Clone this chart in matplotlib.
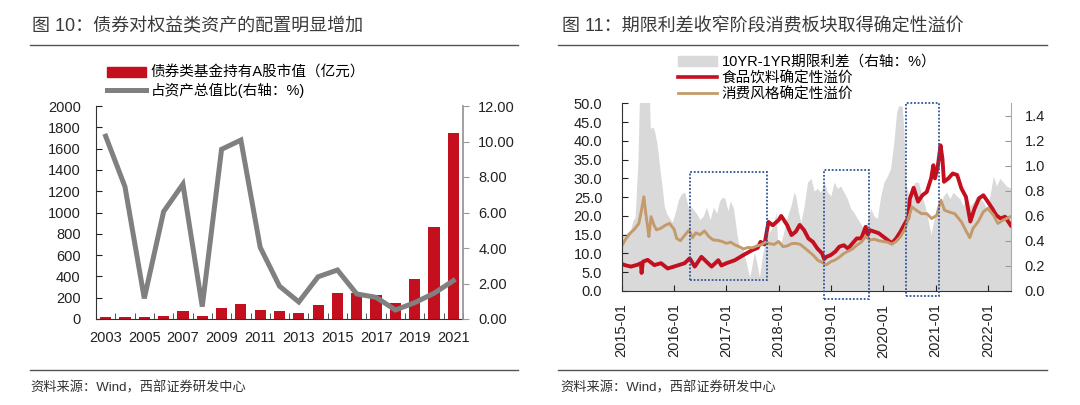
import numpy as np
import pandas as pd
import matplotlib
matplotlib.use('Agg')
import matplotlib.pyplot as plt
from matplotlib.patches import Rectangle, Patch
from matplotlib.lines import Line2D

plt.rcParams['font.family'] = ['Liberation Sans', 'Noto Sans CJK SC']
plt.rcParams['axes.unicode_minus'] = False

# ---- left panel data ----
years = list(range(2003, 2022))
bond_fund_equity = [22, 22, 22, 30, 72, 30, 106, 143, 85, 78,
                    53, 128, 241, 247, 222, 147, 372, 861, 1749]
equity_share = [10.3, 7.45, 1.16, 6.05, 7.6, 0.7, 9.56, 10.08, 4.04, 1.85,
                0.96, 2.38, 2.76, 1.41, 1.22, 0.51, 0.92, 1.45, 2.16]

# ---- right panel data ----
spread_dates = [
    '2015-01-01', '2015-02-01', '2015-03-01', '2015-03-20', '2015-04-05', '2015-04-25',
    '2015-05-06', '2015-06-15', '2015-07-12', '2015-07-20', '2015-08-08', '2015-08-20',
    '2015-09-01', '2015-09-13', '2015-09-25', '2015-10-10', '2015-10-25', '2015-11-10',
    '2015-12-03', '2015-12-20',
    '2016-01-08', '2016-02-01', '2016-02-25', '2016-03-16', '2016-04-10', '2016-05-03',
    '2016-06-06', '2016-07-01', '2016-07-24', '2016-08-16', '2016-09-09', '2016-10-03',
    '2016-10-25', '2016-11-15', '2016-12-05', '2016-12-22',
    '2017-01-12', '2017-01-28', '2017-02-20', '2017-03-13', '2017-04-03', '2017-04-25',
    '2017-05-18', '2017-06-12', '2017-06-25', '2017-07-15', '2017-08-01', '2017-08-20',
    '2017-09-10', '2017-10-06', '2017-10-28', '2017-11-21', '2017-12-15', '2017-12-25',
    '2018-01-18', '2018-02-12', '2018-03-04', '2018-03-28', '2018-04-19', '2018-05-01',
    '2018-05-19', '2018-06-06', '2018-06-28', '2018-07-22', '2018-08-15', '2018-09-06',
    '2018-09-29', '2018-10-22', '2018-11-15', '2018-12-08',
    '2019-01-01', '2019-01-24', '2019-02-16', '2019-03-10', '2019-04-02', '2019-04-25',
    '2019-05-19', '2019-06-10', '2019-07-04', '2019-07-27', '2019-08-19', '2019-09-12',
    '2019-10-06', '2019-10-29', '2019-11-21', '2019-12-15',
    '2020-01-07', '2020-01-31', '2020-02-22', '2020-03-16', '2020-04-04', '2020-04-19',
    '2020-05-13', '2020-05-25', '2020-06-06', '2020-06-28', '2020-07-19', '2020-08-10',
    '2020-09-04', '2020-09-27', '2020-10-20', '2020-11-13', '2020-12-01', '2020-12-17',
    '2021-01-10', '2021-02-02', '2021-02-25', '2021-03-19', '2021-04-12', '2021-05-04',
    '2021-05-28', '2021-06-19', '2021-07-13', '2021-08-06', '2021-08-29', '2021-09-22',
    '2021-10-15', '2021-11-07', '2021-12-01', '2021-12-24',
    '2022-01-16', '2022-02-09', '2022-03-03', '2022-03-26', '2022-04-18', '2022-05-11',
    '2022-06-10']
spread_values = [
    0.45, 0.46, 0.48, 0.56, 0.59, 1.05,
    1.60, 1.70, 1.60, 1.30, 1.31, 1.27,
    1.20, 1.10, 0.97, 0.84, 0.68, 0.62,
    0.58, 0.55,
    0.62, 0.73, 0.78, 0.79, 0.67, 0.67,
    0.62, 0.57, 0.60, 0.67, 0.57, 0.67,
    0.62, 0.72, 0.75, 0.74,
    0.64, 0.72, 0.66, 0.48, 0.33, 0.34,
    0.24, 0.11, 0.18, 0.31, 0.23, 0.11,
    0.28, 0.44, 0.47, 0.51, 0.63, 0.39,
    0.39, 0.50, 0.60, 0.68, 0.79, 0.76,
    0.63, 0.55, 0.68, 0.87, 0.90, 0.80,
    0.82, 0.79, 0.87, 0.79,
    0.76, 0.87, 0.82, 0.84, 0.79, 0.74,
    0.66, 0.63, 0.58, 0.54, 0.50, 0.55,
    0.66, 0.60, 0.58, 0.76,
    0.87, 0.92, 0.98, 1.19, 1.43, 1.48,
    1.48, 1.29, 0.87, 0.76, 0.82, 0.87,
    0.87, 0.76, 0.68, 0.55, 0.45, 0.55,
    0.68, 0.66, 0.76, 0.79, 0.74, 0.79,
    0.76, 0.74, 0.68, 0.76, 0.68, 0.71,
    0.76, 0.74, 0.71, 0.66,
    0.76, 0.92, 0.84, 0.90, 0.87, 0.84,
    0.82]

food_dates = [
    '2015-01-01', '2015-02-01', '2015-03-07', '2015-04-22', '2015-05-15', '2015-05-20',
    '2015-05-29', '2015-07-01', '2015-08-17', '2015-10-03', '2015-11-18',
    '2016-01-01', '2016-03-15', '2016-04-20', '2016-05-25', '2016-07-11', '2016-08-15',
    '2016-09-20', '2016-11-06', '2016-11-27',
    '2017-01-01', '2017-03-01', '2017-05-01', '2017-07-01', '2017-08-08', '2017-08-28',
    '2017-09-24', '2017-10-06', '2017-10-22', '2017-11-21',
    '2018-01-01', '2018-01-19', '2018-03-01', '2018-04-01', '2018-05-01', '2018-05-28',
    '2018-06-28', '2018-07-28', '2018-08-28', '2018-09-29', '2018-11-01', '2018-11-15',
    '2018-12-01',
    '2019-01-01', '2019-02-01', '2019-03-01', '2019-04-01', '2019-05-01', '2019-06-01',
    '2019-07-01', '2019-08-01', '2019-09-01', '2019-09-15', '2019-10-01', '2019-11-01',
    '2019-12-01',
    '2020-01-01', '2020-02-01', '2020-03-01', '2020-04-01', '2020-05-01', '2020-06-01',
    '2020-06-25', '2020-07-05', '2020-08-01', '2020-09-01', '2020-10-01', '2020-11-01',
    '2020-12-01', '2020-12-17', '2020-12-28',
    '2021-01-16', '2021-02-05', '2021-02-18', '2021-03-01', '2021-04-01', '2021-05-01',
    '2021-06-01', '2021-07-01', '2021-08-01', '2021-09-01', '2021-10-01', '2021-11-01',
    '2021-12-01',
    '2022-01-01', '2022-02-01', '2022-03-01', '2022-04-01', '2022-05-01', '2022-06-10']
food_premium = [
    7.2, 6.8, 6.5, 7.0, 7.4, 4.8,
    7.8, 8.3, 6.9, 7.4, 6.0,
    6.5, 7.4, 8.7, 6.5, 9.1, 7.8,
    6.5, 8.2, 6.8,
    7.4, 8.2, 9.6, 10.9, 11.5, 13.1,
    12.4, 14.9, 18.4, 17.5,
    18.9, 20.0, 17.6, 14.9, 15.8, 17.6,
    16.2, 14.0, 13.1, 11.3, 10.0, 8.5,
    9.1,
    9.6, 10.5, 11.8, 12.2, 11.3, 12.7,
    14.0, 14.0, 17.1, 14.9, 16.2, 15.8,
    15.4,
    14.5, 13.6, 12.7, 14.0, 15.8, 18.0,
    19.5, 24.5, 27.5, 23.8, 25.5, 26.4,
    30.0, 33.5, 30.0,
    33.0, 38.8, 35.3, 29.1, 30.0, 31.3,
    30.9, 27.3, 25.1, 18.5, 22.0, 24.7,
    25.5,
    23.8, 22.0, 20.2, 19.3, 19.8, 17.5]

consumer_dates = [
    '2015-01-01', '2015-02-01', '2015-03-01', '2015-04-01', '2015-05-01', '2015-05-15',
    '2015-06-05', '2015-06-15', '2015-07-01', '2015-07-10', '2015-07-25', '2015-08-15',
    '2015-09-01', '2015-10-01', '2015-11-01', '2015-12-01',
    '2016-01-01', '2016-01-20', '2016-02-15', '2016-03-15', '2016-04-15', '2016-05-10',
    '2016-06-01', '2016-07-01', '2016-08-01', '2016-09-01', '2016-10-01', '2016-11-01',
    '2016-12-01',
    '2017-01-01', '2017-02-01', '2017-03-01', '2017-04-01', '2017-05-01', '2017-06-01',
    '2017-07-01', '2017-08-01', '2017-09-01', '2017-10-01', '2017-11-01', '2017-12-01',
    '2018-01-01', '2018-02-01', '2018-03-01', '2018-04-01', '2018-05-01', '2018-06-01',
    '2018-07-01', '2018-08-01', '2018-09-01', '2018-10-01', '2018-11-01', '2018-12-01',
    '2019-01-01', '2019-02-01', '2019-03-01', '2019-04-01', '2019-05-01', '2019-06-01',
    '2019-07-01', '2019-08-01', '2019-09-01', '2019-10-01', '2019-11-01', '2019-12-01',
    '2020-01-01', '2020-02-01', '2020-03-01', '2020-04-01', '2020-05-01', '2020-06-01',
    '2020-07-01', '2020-07-20', '2020-08-20', '2020-09-25', '2020-11-01', '2020-12-05',
    '2021-01-10', '2021-02-08', '2021-03-05', '2021-04-10', '2021-05-15', '2021-07-01',
    '2021-08-05', '2021-08-28', '2021-09-20', '2021-10-25', '2021-12-01',
    '2022-01-01', '2022-02-10', '2022-03-12', '2022-04-18', '2022-06-10']
consumer_premium = [
    12.0, 14.0, 15.4, 16.5, 18.0, 20.7,
    25.1, 21.6, 17.1, 14.5, 19.8, 17.5,
    16.3, 16.7, 17.5, 18.0,
    16.5, 14.0, 13.4, 14.8, 16.2, 14.2,
    15.5, 15.0, 16.0, 14.5, 13.6, 13.5,
    13.2,
    12.7, 13.0, 12.3, 11.8, 11.2, 11.6,
    11.5, 12.0, 12.3, 13.0, 12.6, 12.4,
    13.2, 11.8, 12.0, 12.6, 12.7, 12.4,
    11.5, 10.5, 9.5, 8.2, 7.6, 7.0,
    7.8, 8.3, 9.0, 10.0, 10.6, 11.2,
    12.2, 13.0, 14.5, 13.6, 13.8, 13.4,
    13.2, 13.0, 12.5, 13.2, 14.5, 16.5,
    20.0, 22.4, 21.5, 20.6, 20.6, 19.3,
    20.2, 24.2, 21.5, 21.0, 20.6, 18.4,
    15.8, 14.2, 16.7, 18.4, 21.1,
    22.0, 20.2, 18.0, 18.9, 19.8]

box_starts = ['2016-04-20', '2018-11-15', '2020-06-11']
box_ends = ['2017-10-15', '2019-09-25', '2021-01-25']
box_lows = [2.9, -2.2, -1.3]
box_highs = [31.7, 32.2, 50.1]

RED = '#c40f1e'
GREY_LINE = '#808080'
TAN = '#c49a6c'
FILL = '#d9d9d9'
BOX = '#2f5597'
TXT = '#222222'

W, H = 1080, 405
fig = plt.figure(figsize=(10.8, 4.05), dpi=100)


def fy(py):
    return 1 - py / H


# titles, separators, sources
fig.text(32 / W, fy(27), '图 10：债券对权益类资产的配置明显增加', fontsize=13,
         va='center', ha='left', color='#3a3a3a')
fig.text(562 / W, fy(27), '图 11：期限利差收窄阶段消费板块取得确定性溢价', fontsize=13,
         va='center', ha='left', color='#3a3a3a')
for x0, x1, y in [(30, 518, 45), (558, 1047, 45), (30, 518, 370), (558, 1047, 370)]:
    fig.add_artist(Line2D([x0 / W, x1 / W], [fy(y), fy(y)], color='#555555', lw=1))
fig.text(30 / W, fy(388), '资料来源：Wind，西部证券研发中心', fontsize=9.5,
         va='center', ha='left', color='#333333')
fig.text(560 / W, fy(388), '资料来源：Wind，西部证券研发中心', fontsize=9.5,
         va='center', ha='left', color='#333333')

# ---- left chart ----
ax1 = fig.add_axes([96 / W, fy(319), 367 / W, 213 / H])
x = np.arange(len(years))
bars = ax1.bar(x, bond_fund_equity, width=0.58, color=RED, zorder=2)
ax1.set_xlim(-0.5, len(years) - 0.5)
ax1.set_ylim(0, 2000)
ax1.set_yticks(np.arange(0, 2001, 200))
ax1.set_xticks(x[::2])
ax1.set_xticklabels([str(y) for y in years[::2]])
ax1.set_xticks(np.arange(-0.5, len(years), 1), minor=True)
ax1.tick_params(axis='x', which='major', length=0, pad=9, labelsize=10.5, colors=TXT)
ax1.tick_params(axis='x', which='minor', direction='in', length=4, color='#333333')
ax1.tick_params(axis='y', direction='in', length=4, pad=11, labelsize=10.5, colors=TXT)
for s in ['top', 'right']:
    ax1.spines[s].set_visible(False)
ax1.spines['left'].set_color('#333333')
ax1.spines['bottom'].set_color('#333333')

ax1b = ax1.twinx()
share_line, = ax1b.plot(x, equity_share, color=GREY_LINE, lw=3.6, solid_joinstyle='miter')
ax1b.set_ylim(0, 12)
ax1b.set_yticks(np.arange(0, 12.1, 2))
ax1b.set_yticklabels([f'{v:.2f}' for v in np.arange(0, 12.1, 2)])
ax1b.tick_params(axis='y', direction='out', length=4, pad=7, labelsize=10.5,
                 colors=TXT, color='#999999')
for s in ['top', 'left', 'bottom']:
    ax1b.spines[s].set_visible(False)
ax1b.spines['right'].set_color('#999999')
ax1b.spines['right'].set_linewidth(1.3)

fig.legend([Patch(color=RED), Line2D([], [], color=GREY_LINE, lw=3.6)],
           ['债券类基金持有A股市值（亿元）', '占资产总值比(右轴：%)'],
           loc='upper left', bbox_to_anchor=(107 / W, fy(66)), frameon=False,
           fontsize=10.5, handlelength=2.7, handletextpad=0.3, labelspacing=0.2,
           borderpad=0, borderaxespad=0)

# ---- right chart ----
ax2 = fig.add_axes([621.7 / W, fy(291), 389 / W, 187.7 / H])
ax2b = ax2.twinx()
ax2b.fill_between(pd.to_datetime(spread_dates), spread_values, 0, color=FILL, lw=0)
ax2b.set_ylim(0, 1.5)
ax2b.set_yticks(np.arange(0, 1.41, 0.2))
ax2b.set_yticklabels([f'{v:.1f}' for v in np.arange(0, 1.41, 0.2)])
ax2b.tick_params(axis='y', direction='in', length=4, pad=10, labelsize=10.5,
                 colors=TXT, color='#999999')
for s in ['top', 'left', 'bottom']:
    ax2b.spines[s].set_visible(False)
ax2b.spines['right'].set_color('#aaaaaa')

ax2.set_zorder(ax2b.get_zorder() + 1)
ax2.patch.set_visible(False)
food_line, = ax2.plot(pd.to_datetime(food_dates), food_premium, color=RED, lw=2.8)
cons_line, = ax2.plot(pd.to_datetime(consumer_dates), consumer_premium, color=TAN, lw=2.1)
ax2.set_ylim(0, 50)
ax2.set_yticks(np.arange(0, 50.1, 5))
ax2.set_yticklabels([f'{v:.1f}' for v in np.arange(0, 50.1, 5)])
ax2.set_xlim(pd.Timestamp('2015-01-01'), pd.Timestamp('2022-06-10'))
jan_ticks = pd.to_datetime([f'{y}-01-01' for y in range(2015, 2023)])
ax2.set_xticks(jan_ticks)
ax2.set_xticklabels([d.strftime('%Y-%m') for d in jan_ticks], rotation=90)
ax2.tick_params(axis='x', direction='in', length=4, pad=9, labelsize=10.5, colors=TXT)
ax2.tick_params(axis='y', direction='in', length=4, pad=14, labelsize=10.5, colors=TXT)
for s in ['top', 'right']:
    ax2.spines[s].set_visible(False)
ax2.spines['left'].set_color('#333333')
ax2.spines['bottom'].set_color('#333333')

for b0, b1, lo, hi in zip(box_starts, box_ends, box_lows, box_highs):
    t0 = matplotlib.dates.date2num(pd.Timestamp(b0))
    t1 = matplotlib.dates.date2num(pd.Timestamp(b1))
    ax2.add_patch(Rectangle((t0, lo), t1 - t0, hi - lo, fill=False, edgecolor=BOX,
                            lw=1.3, linestyle=(0, (1, 1)), clip_on=False, zorder=5))

fig.legend([Patch(color=FILL), Line2D([], [], color=RED, lw=2.6),
            Line2D([], [], color=TAN, lw=2.0)],
           ['10YR-1YR期限利差（右轴：%）', '食品饮料确定性溢价', '消费风格确定性溢价'],
           loc='upper left', bbox_to_anchor=(678 / W, fy(55)), frameon=False,
           fontsize=10.5, handlelength=2.7, handletextpad=0.3, labelspacing=0.15,
           borderpad=0, borderaxespad=0)

fig.savefig('out.png', dpi=100)
